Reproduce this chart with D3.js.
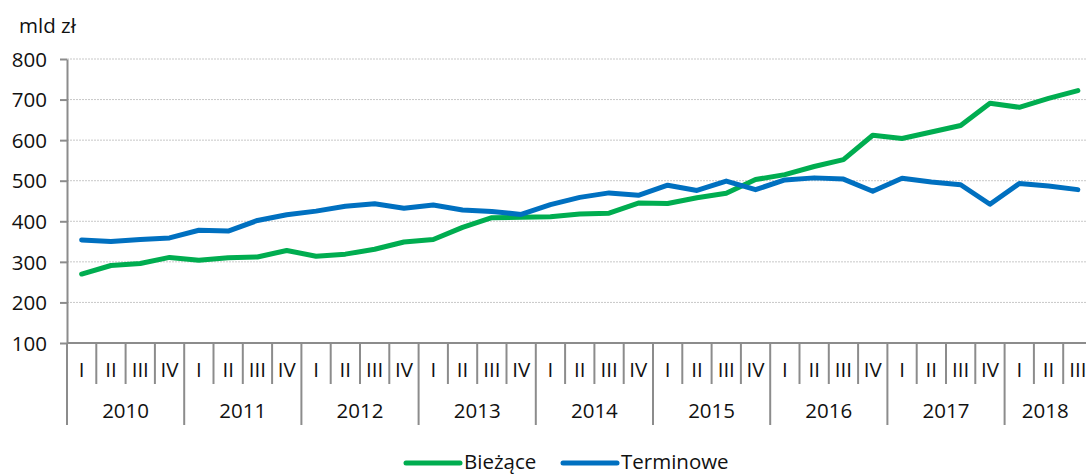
<!DOCTYPE html>
<html>
<head>
<meta charset="utf-8">
<script src="https://cdn.jsdelivr.net/npm/d3@7"></script>
<style>
  body { margin: 0; background: #fff; }
  svg { display: block; }
  svg text { font-family: "Open Sans", sans-serif; font-size: 20.5px; font-weight: 400; fill: #111; }
</style>
</head>
<body>
<script>
// Quarter labels and years (2010 I .. 2018 III)
const years = ["2010", "2011", "2012", "2013", "2014", "2015", "2016", "2017", "2018"];
const quarterNames = ["I", "II", "III", "IV"];
const yTicks = [100, 200, 300, 400, 500, 600, 700, 800];

// mld zł
const biezace = [
  270, 291, 296, 311,
  304, 310, 312, 328,
  314, 319, 331, 349,
  355, 385, 409, 410,
  411, 418, 420, 445,
  444, 458, 469, 503,
  515, 535, 552, 612,
  604, 620, 636, 691,
  681, 703, 722
];
const terminowe = [
  354, 350, 355, 359,
  378, 376, 402, 416,
  425, 437, 443, 432,
  440, 428, 424, 417,
  441, 459, 470, 464,
  489, 476, 499, 478,
  502, 507, 504, 474,
  506, 497, 490, 442,
  493, 487, 478
];

const series = [
  { name: "Bieżące", values: biezace, color: "#00AD50" },
  { name: "Terminowe", values: terminowe, color: "#0070C0" }
];

// build quarter keys
const quarters = [];
years.forEach(y => quarterNames.forEach(q => quarters.push({ key: y + "-" + q, year: y, q })));
quarters.length = biezace.length;

const width = 1086, height = 476;
const margin = { top: 59, left: 67, bottom: 133 };
const plotRight = 1092.5;

const svg = d3.select("body").append("svg")
  .attr("width", width)
  .attr("height", height);

const x = d3.scaleBand()
  .domain(quarters.map(d => d.key))
  .range([margin.left, plotRight])
  .paddingInner(0).paddingOuter(0);

const y = d3.scaleLinear()
  .domain([100, 800])
  .range([height - margin.bottom, margin.top]);

// gridlines
svg.append("g")
  .selectAll("line")
  .data(yTicks.filter(d => d > 100))
  .join("line")
  .attr("x1", margin.left)
  .attr("x2", width)
  .attr("y1", d => y(d))
  .attr("y2", d => y(d))
  .attr("stroke", "#c8c8c8")
  .attr("stroke-width", 1)
  .attr("stroke-dasharray", "2,1");

// y axis
const yAxis = svg.append("g")
  .attr("transform", `translate(${margin.left},0)`)
  .call(d3.axisLeft(y).tickValues(yTicks).tickSize(7).tickPadding(13).tickSizeOuter(0));
yAxis.attr("font-family", null).attr("font-size", null);
yAxis.select(".domain").attr("stroke", "#8c8c8c").attr("stroke-width", 2);
yAxis.selectAll(".tick line").attr("stroke", "#8c8c8c").attr("stroke-width", 2);
yAxis.selectAll(".tick text").attr("fill", null).attr("dy", "0.35em");

svg.append("text")
  .attr("x", 19)
  .attr("y", 33)
  .text("mld zł");

// x axis
const y0 = y(100);
const xg = svg.append("g");
xg.append("line")
  .attr("x1", margin.left).attr("x2", width)
  .attr("y1", y0).attr("y2", y0)
  .attr("stroke", "#8c8c8c").attr("stroke-width", 2);

// quarter ticks
xg.selectAll(".qtick")
  .data(quarters.filter(d => d.q !== "I"))
  .join("line")
  .attr("class", "qtick")
  .attr("x1", d => x(d.key)).attr("x2", d => x(d.key))
  .attr("y1", y0).attr("y2", y0 + 41)
  .attr("stroke", "#8c8c8c").attr("stroke-width", 2);

// year ticks
xg.selectAll(".ytick")
  .data(quarters.filter(d => d.q === "I"))
  .join("line")
  .attr("class", "ytick")
  .attr("x1", d => x(d.key)).attr("x2", d => x(d.key))
  .attr("y1", y0).attr("y2", y0 + 82)
  .attr("stroke", "#8c8c8c").attr("stroke-width", 2);

xg.selectAll(".qlabel")
  .data(quarters)
  .join("text")
  .attr("class", "qlabel")
  .attr("x", d => x(d.key) + x.bandwidth() / 2)
  .attr("y", y0 + 34)
  .attr("text-anchor", "middle")
  .text(d => d.q);

const yearGroups = d3.groups(quarters, d => d.year);
xg.selectAll(".ylabel")
  .data(yearGroups)
  .join("text")
  .attr("class", "ylabel")
  .attr("x", d => {
    const first = x(d[1][0].key);
    const last = x(d[1][d[1].length - 1].key) + x.bandwidth();
    return (first + Math.min(last, width)) / 2;
  })
  .attr("y", y0 + 75)
  .attr("text-anchor", "middle")
  .text(d => d[0]);

// lines
const line = d3.line()
  .x((d, i) => x(quarters[i].key) + x.bandwidth() / 2)
  .y(d => y(d));

svg.append("g")
  .selectAll("path")
  .data(series)
  .join("path")
  .attr("fill", "none")
  .attr("stroke", d => d.color)
  .attr("stroke-width", 5)
  .attr("stroke-linejoin", "round")
  .attr("stroke-linecap", "round")
  .attr("d", d => line(d.values));

// legend
const legendX = [406, 563];
const legend = svg.append("g")
  .selectAll("g")
  .data(series)
  .join("g")
  .attr("transform", (d, i) => `translate(${legendX[i]},463)`);
legend.append("line")
  .attr("x1", 0).attr("x2", 54)
  .attr("stroke", d => d.color)
  .attr("stroke-width", 5)
  .attr("stroke-linecap", "round");
legend.append("text")
  .attr("x", 58)
  .attr("y", 6)
  .text(d => d.name);
</script>
</body>
</html>
